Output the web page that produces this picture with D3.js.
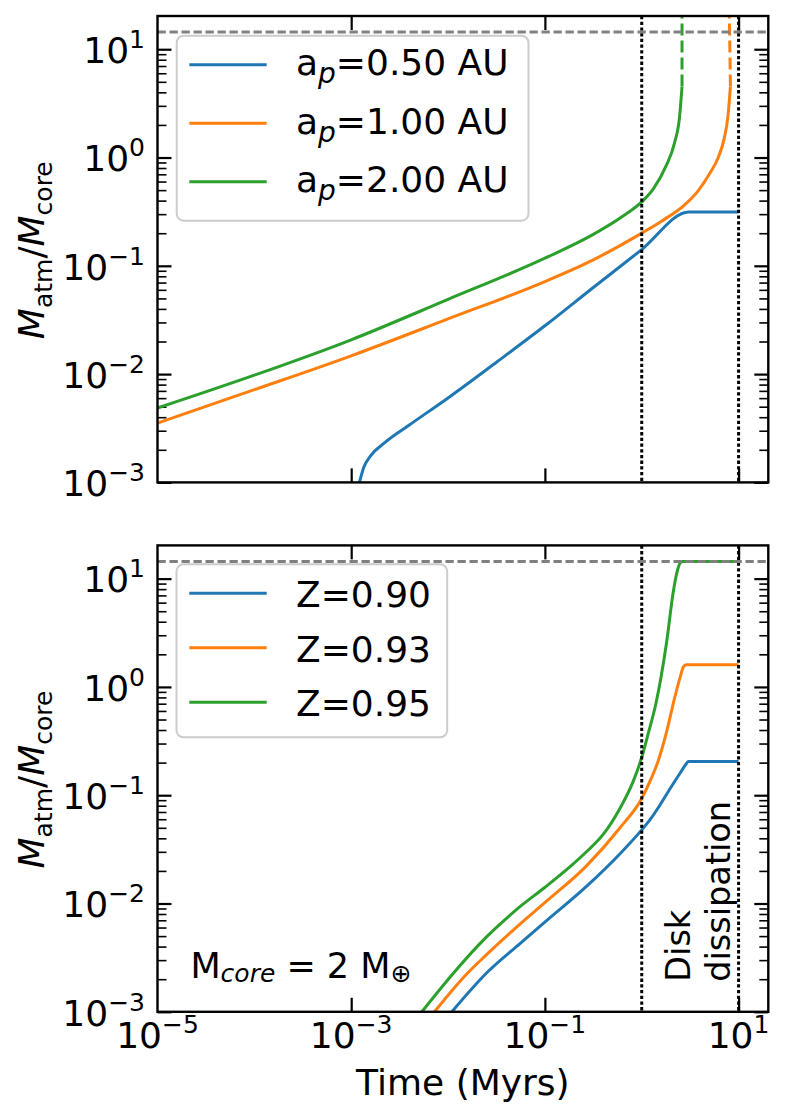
<!DOCTYPE html>
<html>
<head>
<meta charset="utf-8">
<script src="https://cdn.jsdelivr.net/npm/d3@7"></script>
<style>
  body { margin: 0; background: #fff; }
  svg { display: block; font-family: "DejaVu Sans", sans-serif; }
</style>
</head>
<body>
<div id="chart"></div>
<script>
// ---- data (time in Myr, M_atm / M_core) ----
const apLabels = ["0.50", "1.00", "2.00"]
const zLabels = ["0.90", "0.93", "0.95"]

// top panel: orbital distance runs
const apTime050 = [0.001216, 0.001349, 0.001585, 0.002239, 0.003981, 0.01, 0.03162, 0.1, 0.3162, 1, 3.055, 10]
const apMass050 = [0.001, 0.00138, 0.001758, 0.002344, 0.003388, 0.006026, 0.01288, 0.02793, 0.0631, 0.1413, 0.3148, 0.3148]
const apTime100 = [1e-5, 1e-4, 1e-3, 1e-2, 0.1, 0.3162, 1, 1.585, 2.754, 3.802, 5.012, 6.166, 7.079, 7.762, 8.241]
const apMass100 = [0.00353, 0.00718, 0.01476, 0.03236, 0.0716, 0.1135, 0.2004, 0.257, 0.3631, 0.4898, 0.7079, 1.0, 1.479, 2.399, 4.519]
const apTime200 = [1e-5, 1e-4, 1e-3, 1e-2, 0.1, 0.3162, 0.631, 1, 1.318, 1.778, 2.188, 2.455, 2.606]
const apMass200 = [0.00486, 0.00977, 0.02075, 0.049, 0.1175, 0.195, 0.2851, 0.389, 0.5129, 0.8318, 1.38, 2.344, 4.519]
// runaway part (dashed)
const runTime100 = [8.241, 8.0]
const runMass100 = [4.519, 25]
const runTime200 = [2.606, 2.606]
const runMass200 = [4.519, 25]

// bottom panel: metallicity runs
const zTime090 = [0.01096, 0.02512, 0.05534, 0.1005, 0.2704, 0.597, 1, 1.219, 1.545, 1.959, 2.512, 2.884, 3.027, 10]
const zMass090 = [0.001, 0.002291, 0.004266, 0.006761, 0.01445, 0.02884, 0.04786, 0.05957, 0.08128, 0.1148, 0.1622, 0.195, 0.2047, 0.2047]
const zTime093 = [0.007244, 0.01524, 0.02512, 0.05534, 0.1005, 0.2704, 0.597, 1, 1.219, 1.483, 1.811, 2.188, 2.512, 2.692, 2.884, 10]
const zMass093 = [0.001, 0.002188, 0.003388, 0.006457, 0.01023, 0.02239, 0.05012, 0.0933, 0.1349, 0.2089, 0.389, 0.7943, 1.259, 1.531, 1.603, 1.603]
const zTime095 = [0.00537, 0.01135, 0.02512, 0.05534, 0.1005, 0.182, 0.2704, 0.4018, 0.597, 0.8185, 1, 1.175, 1.396, 1.811, 2.118, 2.344, 2.477, 2.63, 10]
const zMass095 = [0.001, 0.00227, 0.00494, 0.00935, 0.01413, 0.02188, 0.0302, 0.04365, 0.07586, 0.1349, 0.2239, 0.3802, 0.6918, 2.63, 7.586, 12.02, 13.8, 14.36, 14.36]

const critRatio = 14.4          // horizontal grey dashed line
const diskTimes = [1, 10]       // vertical dotted lines
const xTickValues = [1e-5, 1e-3, 1e-1, 1e1]
const xTickExps = [-5, -3, -1, 1]
const yTickValues = [1e-3, 1e-2, 1e-1, 1, 10]
const yTickExps = [-3, -2, -1, 0, 1]

const colors = ["#1f77b4", "#ff7f0e", "#2ca02c"]

// ---- layout ----
const width = 789
const height = 1119
const xLeft = 157.5
const xRight = 768.3
const axMax = 20.27
const panels = [
  { top: 16, bottom: 482.4 },
  { top: 545.4, bottom: 1011.8 }
]

const svg = d3.select("#chart").append("svg")
  .attr("width", width)
  .attr("height", height)
  .attr("viewBox", [0, 0, width, height])

const x = d3.scaleLog().domain([1e-5, axMax]).range([xLeft, xRight])

function expLabel(text, exp, size, rise) {
  text.append("tspan").text("10")
  text.append("tspan").attr("font-size", size).attr("dy", -rise)
    .text(exp < 0 ? "\u2212" + Math.abs(exp) : String(exp))
}

function addAxis(g, axis, tx, ty, values, size, sw) {
  g.append("g")
    .attr("transform", `translate(${tx},${ty})`)
    .style("color", "#000")
    .call(axis.tickValues(values).tickSize(size).tickSizeOuter(0).tickFormat(""))
    .call(a => a.select(".domain").remove())
    .call(a => a.selectAll(".tick line").attr("stroke-width", sw))
}

function drawPanel(idx, series, dashed, legend, showX) {
  const p = panels[idx]
  const y = d3.scaleLog().domain([1e-3, axMax]).range([p.bottom, p.top])
  const g = svg.append("g")

  const clipId = "clip" + idx
  svg.append("clipPath").attr("id", clipId)
    .append("rect")
    .attr("x", xLeft).attr("y", p.top)
    .attr("width", xRight - xLeft).attr("height", p.bottom - p.top)

  // ticks, all pointing inward
  const minorY = []
  yTickValues.forEach(v => {
    for (let k = 2; k < 10; k++) if (v * k < axMax * 0.98) minorY.push(v * k)
  })
  const xIn = xTickValues.filter(v => v > 1e-5)
  addAxis(g, d3.axisRight(y), xLeft, 0, yTickValues, 14, 2.2)
  addAxis(g, d3.axisRight(y), xLeft, 0, minorY, 9, 1.6)
  addAxis(g, d3.axisLeft(y), xRight, 0, yTickValues, 14, 2.2)
  addAxis(g, d3.axisLeft(y), xRight, 0, minorY, 9, 1.6)
  addAxis(g, d3.axisBottom(x), 0, p.top, xIn, 14, 2.2)
  addAxis(g, d3.axisTop(x), 0, p.bottom, xIn, 14, 2.2)

  const plot = g.append("g").attr("clip-path", `url(#${clipId})`)
  const line = d3.line()
    .x(d => x(d[0]))
    .y(d => y(d[1]))
    .curve(d3.curveMonotoneX)
  const straight = d3.line().x(d => x(d[0])).y(d => y(d[1]))

  series.forEach((s, i) => {
    plot.append("path")
      .datum(d3.zip(s[0], s[1]))
      .attr("fill", "none")
      .attr("stroke", colors[i])
      .attr("stroke-width", 3)
      .attr("d", line)
  })
  dashed.forEach(s => {
    plot.append("path")
      .datum(d3.zip(s[0], s[1]))
      .attr("fill", "none")
      .attr("stroke", colors[s[2]])
      .attr("stroke-width", 3)
      .attr("stroke-dasharray", "12,5")
      .attr("d", straight)
  })

  // disk lifetime markers
  plot.selectAll(".disk")
    .data(diskTimes)
    .join("line")
    .attr("x1", d => x(d)).attr("x2", d => x(d))
    .attr("y1", p.top).attr("y2", p.bottom)
    .attr("stroke", "#000")
    .attr("stroke-width", 3)
    .attr("stroke-dasharray", "3.3,2.4")

  plot.append("line")
    .attr("x1", xLeft).attr("x2", xRight)
    .attr("y1", y(critRatio)).attr("y2", y(critRatio))
    .attr("stroke", "#808080")
    .attr("stroke-width", 3)
    .attr("stroke-dasharray", "8.3,3.7")

  // frame
  g.append("rect")
    .attr("x", xLeft).attr("y", p.top)
    .attr("width", xRight - xLeft).attr("height", p.bottom - p.top)
    .attr("fill", "none")
    .attr("stroke", "#000")
    .attr("stroke-width", 2.4)

  // y tick labels
  yTickValues.forEach((v, i) => {
    const t = g.append("text")
      .attr("x", 145)
      .attr("y", y(v) + 13.7)
      .attr("text-anchor", "end")
      .attr("font-size", 36)
    expLabel(t, yTickExps[i], 25, 15)
  })

  if (showX) {
    xTickValues.forEach((v, i) => {
      const t = g.append("text")
        .attr("x", x(v))
        .attr("y", 1048.3)
        .attr("text-anchor", "middle")
        .attr("font-size", 36)
      expLabel(t, xTickExps[i], 25, 15)
    })
  }

  // y axis label
  const yl = g.append("text")
    .attr("transform", `translate(44,${(p.top + p.bottom) / 2 + 1}) rotate(-90)`)
    .attr("text-anchor", "middle")
    .attr("font-size", 36)
  yl.append("tspan").attr("font-style", "italic").text("M")
  yl.append("tspan").attr("font-size", 25).attr("dy", 8).text("atm")
  yl.append("tspan").attr("dy", -8).text("/")
  yl.append("tspan").attr("font-style", "italic").text("M")
  yl.append("tspan").attr("font-size", 25).attr("dy", 8).text("core")

  // legend
  const lg = g.append("g")
  lg.append("rect")
    .attr("x", legend.x).attr("y", legend.y)
    .attr("width", legend.w).attr("height", legend.h)
    .attr("rx", 7)
    .attr("fill", "#fff").attr("fill-opacity", 0.8)
    .attr("stroke", "#cccccc").attr("stroke-width", 2)
  legend.labels.forEach((lab, i) => {
    const ly = legend.y + 29 + i * legend.step
    lg.append("line")
      .attr("x1", 189.3).attr("x2", 266.7)
      .attr("y1", ly).attr("y2", ly)
      .attr("stroke", colors[i]).attr("stroke-width", 3)
    const t = lg.append("text")
      .attr("x", 296)
      .attr("y", ly + legend.base)
      .attr("font-size", 36)
    legend.label(t, lab)
  })
  return { g, y }
}

drawPanel(0,
  [[apTime050, apMass050], [apTime100, apMass100], [apTime200, apMass200]],
  [[runTime100, runMass100, 1], [runTime200, runMass200, 2]],
  {
    x: 176.7, y: 35.7, w: 351.8, h: 185, step: 58.5, base: 10.3, labels: apLabels,
    label: (t, lab) => {
      t.append("tspan").text("a")
      t.append("tspan").attr("font-size", 28).attr("font-style", "italic").attr("dy", 8).text("p")
      t.append("tspan").attr("dy", -8).text("=" + lab + " AU")
    }
  },
  false)

const bottom = drawPanel(1,
  [[zTime090, zMass090], [zTime093, zMass093], [zTime095, zMass095]],
  [],
  {
    x: 176.5, y: 564.3, w: 270.7, h: 173, step: 54.5, base: 14, labels: zLabels,
    label: (t, lab) => t.text("Z=" + lab)
  },
  true)

// core mass note
const note = bottom.g.append("text")
  .attr("x", 190.4)
  .attr("y", 978.3)
  .attr("font-size", 35)
note.append("tspan").text("M")
note.append("tspan").attr("font-size", 25).attr("font-style", "italic").attr("dy", 3.5).text("core")
note.append("tspan").attr("dy", -3.5).text(" = 2 M")
note.append("tspan").attr("font-size", 25).attr("dy", 4).text("\u2295")

// disk dissipation label
const dd = bottom.g.append("text")
  .attr("transform", "translate(690,981.7) rotate(-90)")
  .attr("font-size", 33.5)
dd.append("tspan").attr("x", 0).attr("y", 0).text("Disk")
dd.append("tspan").attr("x", 0).attr("y", 40).text("dissipation")

// x axis label
svg.append("text")
  .attr("x", (xLeft + xRight) / 2)
  .attr("y", 1095)
  .attr("text-anchor", "middle")
  .attr("font-size", 36)
  .text("Time (Myrs)")
</script>
</body>
</html>
